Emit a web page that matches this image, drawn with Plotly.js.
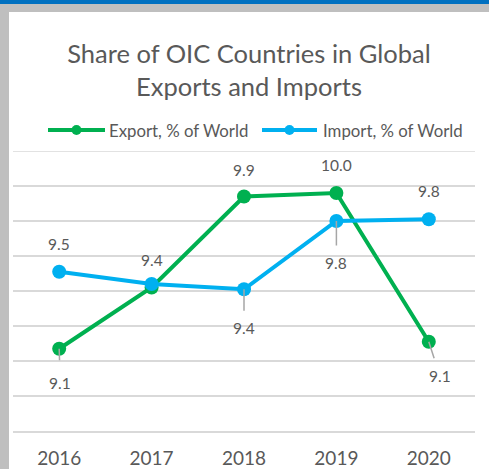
<!DOCTYPE html>
<html>
<head>
<meta charset="utf-8">
<script src="https://cdn.plot.ly/plotly-3.0.1.min.js"></script>
<style>
  html, body { margin: 0; padding: 0; background: #ffffff; }
  #page { position: relative; width: 489px; height: 469px; overflow: hidden; background: #ffffff; }
  #topbar { position: absolute; left: 0; top: 0; width: 489px; height: 4px; background: #0070C0; }
  #topgrey { position: absolute; left: 0; top: 4px; width: 489px; height: 8px; background: #BFBFBF; }
  #leftgrey { position: absolute; left: 0; top: 4px; width: 9px; height: 465px; background: #BFBFBF; }
  #chart { position: absolute; left: 9px; top: 12px; width: 480px; height: 457px; }
</style>
</head>
<body>
<div id="page">
  <div id="topbar"></div>
  <div id="topgrey"></div>
  <div id="leftgrey"></div>
  <div id="chart"></div>
</div>
<script>
// ---- data ----
const years = ['2016', '2017', '2018', '2019', '2020'];
const exportShare = [9.07, 9.42, 9.94, 9.96, 9.11];
const importShare = [9.51, 9.44, 9.41, 9.80, 9.81];
const seriesNames = ['Export, % of World', 'Import, % of World'];
const chartTitle = 'Share of OIC Countries in Global<br>Exports and Imports';

// ---- styles ----
const FONT = 'Lato, "Open Sans", sans-serif';
const TEXT = '#595959';
const GREEN = '#00B050';
const BLUE = '#00B0F0';
const GRID = '#D9D9D9';
const LEADER = '#A6A6A6';

// label placement (pixel offsets from the point), null = hidden
const exportLabelPos = [
  {ax: 1, ay: 34, arrow: true, pad: 13},
  null,
  {ay: -27},
  {ay: -28},
  {ax: 11, ay: 34, arrow: true, pad: 8}
];
const importLabelPos = [
  {ay: -28},
  {ay: -24},
  {ay: 39, arrow: true, pad: 8},
  {ay: 42, arrow: true, pad: 8},
  {ay: -28}
];

const W = 480, H = 457;
const M = {l: 4, r: 14, t: 139, b: 38};
const plotW = W - M.l - M.r, plotH = H - M.t - M.b;
// convert chart-div pixel positions to paper coords (for legend drawing)
const px = x => (x - M.l) / plotW;
const py = y => (H - M.b - y) / plotH;

const traces = [
  {
    x: years, y: exportShare, name: seriesNames[0], type: 'scatter', mode: 'lines+markers',
    line: {color: GREEN, width: 4}, marker: {color: GREEN, size: 14},
    showlegend: false, hoverinfo: 'x+y'
  },
  {
    x: years, y: importShare, name: seriesNames[1], type: 'scatter', mode: 'lines+markers',
    line: {color: BLUE, width: 4}, marker: {color: BLUE, size: 14},
    showlegend: false, hoverinfo: 'x+y'
  }
];

const annotations = [];
function addLabels(values, pos) {
  values.forEach((v, i) => {
    const p = pos[i];
    if (!p) return;
    const a = {
      x: years.indexOf(years[i]), y: v, xref: 'x', yref: 'y',
      text: v.toFixed(1),
      font: {family: FONT, size: 15.5, color: TEXT}
    };
    if (p.arrow) {
      Object.assign(a, {
        showarrow: true, arrowhead: 0, arrowwidth: 1.5, arrowcolor: LEADER,
        standoff: 0, ax: p.ax || 0, ay: p.ay, borderpad: p.pad || 1
      });
    } else {
      Object.assign(a, {showarrow: false, xshift: p.ax || 0, yshift: -p.ay});
    }
    annotations.push(a);
  });
}
addLabels(exportShare, exportLabelPos);
addLabels(importShare, importLabelPos);

// custom legend (Excel-style long line with marker)
const legendItems = [
  {name: seriesNames[0], color: GREEN, x0: 39, x1: 96, tx: 98},
  {name: seriesNames[1], color: BLUE, x0: 253, x1: 308, tx: 312}
];
const legendY = 118;
const shapes = [];
legendItems.forEach(it => {
  shapes.push({
    type: 'line', xref: 'paper', yref: 'paper',
    x0: px(it.x0), x1: px(it.x1), y0: py(legendY), y1: py(legendY),
    line: {color: it.color, width: 4}
  });
  const cx = (it.x0 + it.x1) / 2, r = 5;
  shapes.push({
    type: 'circle', xref: 'paper', yref: 'paper',
    x0: px(cx - r), x1: px(cx + r), y0: py(legendY + r), y1: py(legendY - r),
    fillcolor: it.color, line: {color: it.color, width: 0}
  });
  annotations.push({
    xref: 'paper', yref: 'paper', x: px(it.tx), y: py(legendY),
    xanchor: 'left', yanchor: 'middle', showarrow: false,
    text: it.name, font: {family: FONT, size: 16.8, color: TEXT}
  });
});

// top gridline (at the upper range edge, which plotly does not grid)
shapes.push({
  type: 'line', xref: 'paper', yref: 'y', x0: 0, x1: 1, y0: 10.2, y1: 10.2,
  line: {color: GRID, width: 1.5}, layer: 'below'
});

const layout = {
  width: W, height: H,
  margin: M,
  paper_bgcolor: '#ffffff', plot_bgcolor: '#ffffff',
  showlegend: false,
  title: {
    text: chartTitle,
    font: {family: FONT, size: 25.5, color: TEXT},
    x: 0.5, xref: 'container', xanchor: 'center',
    y: 1 - 50.5 / 457, yref: 'container', yanchor: 'middle'
  },
  xaxis: {
    type: 'category', range: [-0.5, 4.5],
    showgrid: false, zeroline: false,
    showline: true, linecolor: GRID, linewidth: 1.5,
    ticks: '', ticklabelstandoff: 10,
    tickfont: {family: FONT, size: 19, color: TEXT}
  },
  yaxis: {
    range: [8.6, 10.2], dtick: 0.2, tick0: 8.6,
    showgrid: true, gridcolor: GRID, gridwidth: 1.5,
    zeroline: false, showline: false, showticklabels: false, ticks: ''
  },
  shapes: shapes,
  annotations: annotations
};

Plotly.newPlot('chart', traces, layout, {displayModeBar: false, staticPlot: true});
</script>
</body>
</html>
